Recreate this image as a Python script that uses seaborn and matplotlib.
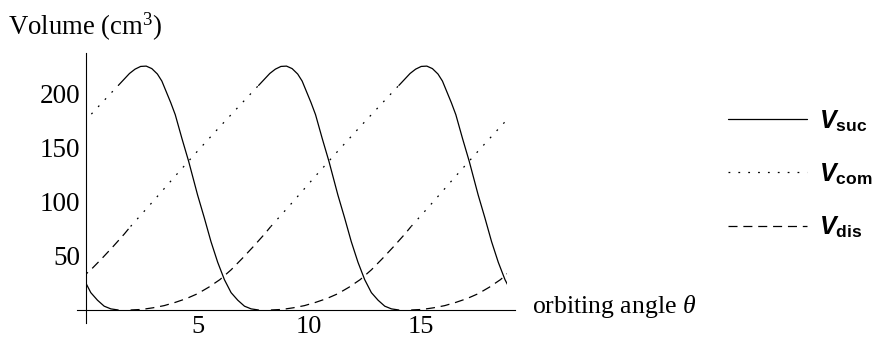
import numpy as np
import pandas as pd
import seaborn as sns
import matplotlib.pyplot as plt
from matplotlib.lines import Line2D
from matplotlib.patches import Rectangle
from matplotlib.ticker import FixedLocator, MultipleLocator

# one revolution of each chamber volume (angle in rad, volume in cm^3)
SUC_ANGLE = [1.45, 1.7, 1.95, 2.2, 2.45, 2.7, 2.95, 3.2, 3.4, 3.6, 3.8, 4.0, 4.3, 4.6,
             5.0, 5.3, 5.6, 5.9, 6.2, 6.5, 6.8, 7.1, 7.4, 7.73]
SUC_VOL = [207, 212.5, 218, 222, 224.5, 224.8, 222.5, 217.5, 211, 201, 191, 180, 158, 137,
           106, 85, 63, 44, 28, 16, 9, 3.5, 1, 0]

COM_ANGLE = [2.0, 3.0, 4.0, 5.0, 6.0, 7.0, 7.73]
COM_VOL = [77, 100, 123.5, 146.5, 169, 191, 207]

DIS_ANGLE = [2.0, 2.5, 3.0, 3.5, 4.0, 4.5, 5.0, 5.5, 6.0, 6.5, 7.0, 7.5, 8.0, 8.28]
DIS_VOL = [0, 0.5, 2, 4, 7, 10.5, 15, 21, 28, 37, 47.5, 58.5, 70, 77]

SERIES = ["suc", "com", "dis"]
LABELS = [r"$\mathbfit{V}_{\mathbf{suc}}$", r"$\mathbfit{V}_{\mathbf{com}}$", r"$\mathbfit{V}_{\mathbf{dis}}$"]
CYCLES = [-1, 0, 1, 2]
PERIOD = 2 * np.pi
X_END = 6 * np.pi

X_TICKS = [5, 10, 15]
Y_TICKS = [50, 100, 150, 200]

DASHES = {"suc": "", "com": (1.3, 5.8), "dis": (6.5, 4.2)}

sns.set_theme(style="white")
plt.rcParams.update({
    "font.family": ["Liberation Serif", "DejaVu Serif"],
    "mathtext.fontset": "custom",
    "mathtext.rm": "Liberation Serif",
    "mathtext.it": "Liberation Serif:italic",
    "mathtext.bf": "Liberation Sans:bold",
    "mathtext.bfit": "Liberation Sans:italic:bold",
    "lines.scale_dashes": False,
    "text.color": "black",
    "xtick.color": "black",
    "ytick.color": "black",
    "axes.edgecolor": "black",
})

frames = []
for name, ang, vol in [("suc", SUC_ANGLE, SUC_VOL), ("com", COM_ANGLE, COM_VOL), ("dis", DIS_ANGLE, DIS_VOL)]:
    for k in CYCLES:
        frames.append(pd.DataFrame({"angle": np.array(ang) + k * PERIOD, "volume": vol,
                                    "series": name, "cycle": k}))
df = pd.concat(frames, ignore_index=True)

fig = plt.figure(figsize=(8.76, 3.38), dpi=100)
ax = fig.add_axes([0.0874, 0.0444, 0.5001, 0.7979])

sns.lineplot(data=df, x="angle", y="volume", style="series", units="cycle", estimator=None,
             dashes=DASHES, color="black", lw=0.9, sort=False, legend=False, ax=ax)

# curves are only drawn over three revolutions, 0 .. 6*pi
clip = Rectangle((0, -50), X_END, 400, transform=ax.transData)
for line in ax.lines:
    line.set_clip_path(clip)

ax.set_xlim(-0.42, 19.2)
ax.set_ylim(-12, 236.6)
ax.set_xlabel("")
ax.set_ylabel("")
for s in ["top", "right"]:
    ax.spines[s].set_visible(False)
for s in ["left", "bottom"]:
    ax.spines[s].set_position(("data", 0))
    ax.spines[s].set_linewidth(0.8)

ax.xaxis.set_major_locator(FixedLocator(X_TICKS))
ax.yaxis.set_major_locator(FixedLocator(Y_TICKS))
ax.xaxis.set_minor_locator(MultipleLocator(1))
ax.yaxis.set_minor_locator(MultipleLocator(10))
ax.tick_params(which="both", direction="in", width=0.6, labelsize=19.5)
ax.tick_params(axis="x", labelsize=19)
ax.tick_params(which="major", length=4)
ax.tick_params(which="minor", length=2.5)
ax.tick_params(axis="x", pad=4.5)
ax.tick_params(axis="y", pad=4)

fig.text(8 / 876, 1 - 27 / 338, "Volume (cm$^3$)", ha="left", va="center", size=19.3)
fig.text(532 / 876, 1 - 307 / 338, r"orbiting angle $\theta$", ha="left", va="center", size=18.5)

handles = [Line2D([], [], color="black", lw=0.9, dashes=DASHES[s]) for s in SERIES]
fig.legend(handles, LABELS, loc="center left", bbox_to_anchor=(728 / 876, 1 - 174 / 338),
           frameon=False, fontsize=18, handlelength=3.15, handletextpad=0.5, labelspacing=1.1,
           borderpad=0, borderaxespad=0)

fig.savefig("out.png", dpi=100)
